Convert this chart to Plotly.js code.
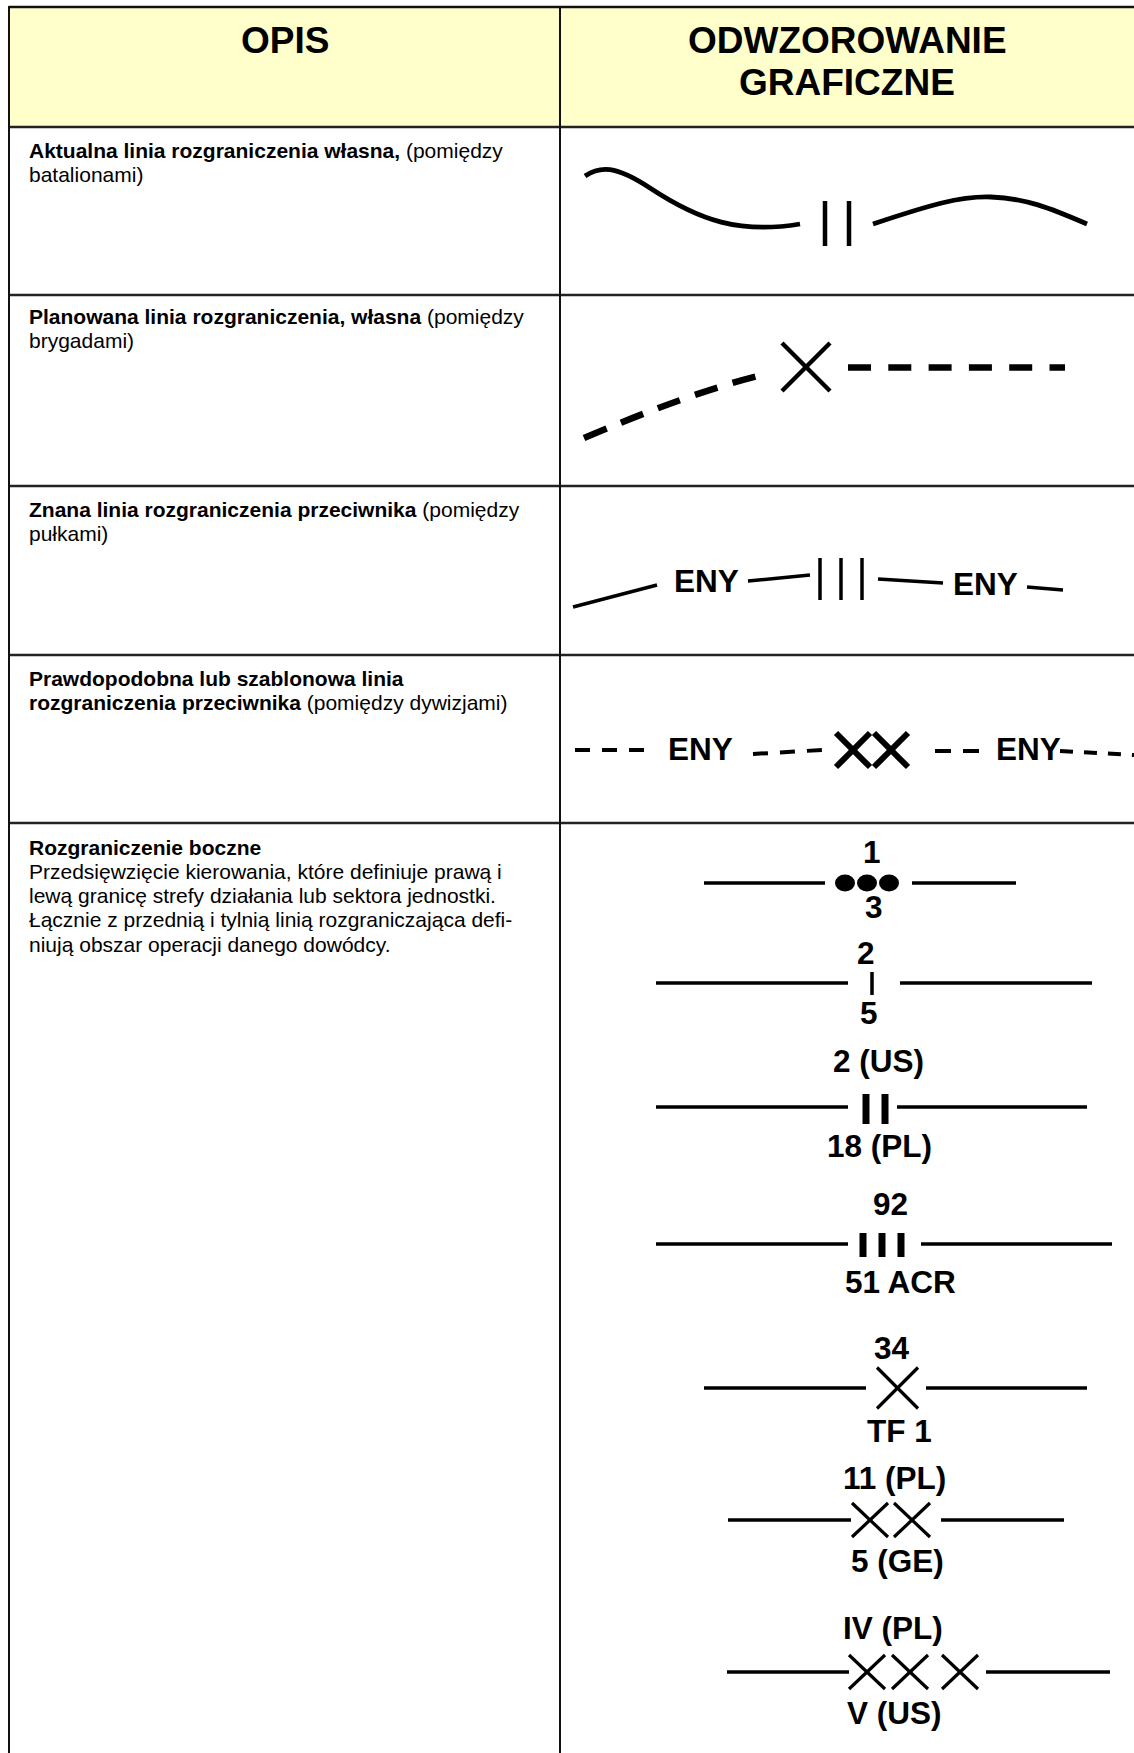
<!DOCTYPE html>
<html><head><meta charset="utf-8">
<script src="https://cdn.plot.ly/plotly-3.0.1.min.js"></script>
<style>html,body{margin:0;padding:0;background:#fff}#chart{width:1134px;height:1753px}</style>
</head><body><div id="chart"></div>
<script>
// ---- content ----
const columnHeaders = ["OPIS", "ODWZOROWANIE<br>GRAFICZNE"];
const descBold = [
  "Aktualna linia rozgraniczenia własna,",
  "Planowana linia rozgraniczenia, własna",
  "Znana linia rozgraniczenia przeciwnika",
  "Prawdopodobna lub szablonowa linia<br>rozgraniczenia przeciwnika",
  "Rozgraniczenie boczne"
];
const descRest = [
  " (pomiędzy<br>batalionami)",
  " (pomiędzy<br>brygadami)",
  " (pomiędzy<br>pułkami)",
  " (pomiędzy dywizjami)",
  "<br>Przedsięwzięcie kierowania, które definiuje prawą i<br>lewą granicę strefy działania lub sektora jednostki.<br>Łącznie z przednią i tylnią linią rozgraniczająca defi-<br>niują obszar operacji danego dowódcy."
];
const rowEchelon = ["II", "X", "III", "XX"];
const enemyLabel = "ENY";
const lateralUpper = ["1", "2", "2 (US)", "92", "34", "11 (PL)", "IV (PL)"];
const lateralLower = ["3", "5", "18 (PL)", "51 ACR", "TF 1", "5 (GE)", "V (US)"];
const lateralEchelon = ["●●●", "I", "II", "III", "X", "XX", "XXX"];

// ---- drawing ----
const FONT = "Liberation Sans, Arial, Helvetica, sans-serif";
const shapes = [];
const annotations = [];
function ln(x0, y0, x1, y1, w, dash, color) {
  shapes.push({type: 'line', xref: 'x', yref: 'y', x0, y0, x1, y1,
    line: {color: color || '#000', width: w, dash: dash || 'solid'}});
}
function pth(d, w, dash) {
  shapes.push({type: 'path', xref: 'x', yref: 'y', path: d, fillcolor: 'rgba(0,0,0,0)',
    line: {color: '#000', width: w, dash: dash || 'solid'}});
}
function cross(cx, cy, hw, hh, w) {
  ln(cx - hw, cy - hh, cx + hw, cy + hh, w);
  ln(cx - hw, cy + hh, cx + hw, cy - hh, w);
}
function dot(cx, cy, rx, ry) {
  shapes.push({type: 'circle', xref: 'x', yref: 'y', x0: cx - rx, x1: cx + rx, y0: cy - ry, y1: cy + ry,
    fillcolor: '#000', line: {color: '#000', width: 0}});
}
function label(text, x, y, size, opts) {
  annotations.push(Object.assign({xref: 'x', yref: 'y', x, y, text, showarrow: false,
    xanchor: 'center', yanchor: 'middle', font: {family: FONT, size: size, color: '#000'}}, opts || {}));
}
function splitLines(html) {
  let open = false;
  return html.split('<br>').map(p => {
    let s = (open ? '<b>' : '') + p;
    const o = (s.match(/<b>/g) || []).length, c = (s.match(/<\/b>/g) || []).length;
    if (o > c) { s += '</b>'; open = true; } else { open = false; }
    return s;
  });
}

// table frame
shapes.push({type: 'rect', xref: 'x', yref: 'y', x0: 9, x1: 1134, y0: 7, y1: 127,
  fillcolor: '#FFFFCC', line: {width: 0}, layer: 'below'});
ln(9, 7, 1134, 7, 2.5, null, '#111');
[127, 295, 486, 655, 823].forEach(y => ln(9, y, 1134, y, 2.5, null, '#222'));
ln(9, 6, 9, 1753, 2, null, '#111');
ln(560, 6, 560, 1753, 2, null, '#111');

// headers
label('<b>' + columnHeaders[0] + '</b>', 284.5, 40, 37);
columnHeaders[1].split('<br>').forEach((t, k) => label('<b>' + t + '</b>', 847, 40 + k * 42, 37));

// descriptions
const descFirst = [150, 316.5, 509, 678, 847];
descBold.forEach((b, i) => {
  splitLines('<b>' + b + '</b>' + descRest[i]).forEach((t, k) => {
    label(t, 27, descFirst[i] + k * 24.3, 21, {xanchor: 'left', align: 'left'});
  });
});

// row 1: own current boundary (battalions)
pth('M585,176 C600,166 615,165 650,188 C700,221 740,234 800,224', 4.8);
[825, 849].slice(0, rowEchelon[0].length).forEach(x => ln(x, 201, x, 246, 4.5));
pth('M873,224 C930,205 960,196 991,197 C1025,198 1050,208 1087,224', 4.8);

// row 2: planned boundary (brigades)
pth('M584,438 Q687,394 758,376', 6.5, '24px,15.5px');
cross(806, 367, 24, 24, 4.5);
ln(848, 367.5, 1065, 367.5, 6.5, '23px,17.3px');

// row 3: known enemy boundary (regiments)
ln(573, 607, 657, 585, 3.5);
label('<b>' + enemyLabel + '</b>', 706, 581, 31.5);
ln(748, 581, 810, 575, 3.5);
[820, 841, 862].slice(0, rowEchelon[2].length).forEach(x => ln(x, 558, x, 600, 3.5));
ln(878, 579, 943, 583, 3.5);
label('<b>' + enemyLabel + '</b>', 985, 584, 31.5);
ln(1027, 587, 1063, 590, 3.5);

// row 4: probable enemy boundary (divisions)
ln(575, 750, 646, 750, 4, '15px,12px');
label('<b>' + enemyLabel + '</b>', 700, 749, 31.5);
ln(753, 754, 822, 750, 4, '15px,12px');
[853, 891].slice(0, rowEchelon[3].length).forEach(x => cross(x, 750, 17, 17, 6));
ln(935, 751, 979, 751, 4, '16px,12px');
label('<b>' + enemyLabel + '</b>', 1028, 749, 31.5);
ln(1060, 751, 1134, 755, 4, '13px,11px');

// row 5: lateral boundaries
const lateralGeom = [
  {y: 883, L: [704, 825], R: [912, 1016], top: [872, 852], bot: [874, 907], xs: [845, 867, 889]},
  {y: 983, L: [656, 848], R: [900, 1092], top: [866, 953], bot: [869, 1013], xs: [872], bh: [972, 995], bw: 3.5},
  {y: 1107, L: [656, 848], R: [897, 1087], top: [878, 1061], bot: [879, 1146], xs: [866, 885], bh: [1094, 1124], bw: 7},
  {y: 1244, L: [656, 848], R: [921, 1112], top: [890, 1204], bot: [900, 1282], xs: [863, 882, 901], bh: [1233, 1257], bw: 7},
  {y: 1388, L: [704, 866], R: [926, 1087], top: [892, 1348], bot: [899, 1431], xs: [897.5], hw: 20.5, hh: 20.5},
  {y: 1520, L: [728, 851], R: [941, 1064], top: [894, 1478], bot: [897, 1561], xs: [870, 912], hw: 18, hh: 17},
  {y: 1672, L: [727, 849], R: [986, 1110], top: [893, 1628], bot: [894, 1713], xs: [867, 910, 960], hw: 18, hh: 17}
];
lateralEchelon.forEach((sym, i) => {
  const g = lateralGeom[i];
  ln(g.L[0], g.y, g.L[1], g.y, 3.5);
  ln(g.R[0], g.y, g.R[1], g.y, 3.5);
  const n = [...sym].length;
  if (sym.includes('●')) {
    g.xs.slice(0, n).forEach(x => dot(x, g.y, 10, 8.5));
  } else if (sym.includes('I')) {
    g.xs.slice(0, n).forEach(x => ln(x, g.bh[0], x, g.bh[1], g.bw));
  } else {
    g.xs.slice(0, n).forEach(x => cross(x, g.y, g.hw, g.hh, 3.2));
  }
  label('<b>' + lateralUpper[i] + '</b>', g.top[0], g.top[1], 31.5);
  label('<b>' + lateralLower[i] + '</b>', g.bot[0], g.bot[1], 31.5);
});

const layout = {
  width: 1134, height: 1753,
  margin: {l: 0, r: 0, t: 0, b: 0, pad: 0},
  paper_bgcolor: '#fff', plot_bgcolor: '#fff',
  showlegend: false,
  xaxis: {range: [0, 1134], visible: false, fixedrange: true},
  yaxis: {range: [1753, 0], visible: false, fixedrange: true},
  shapes: shapes,
  annotations: annotations
};
Plotly.newPlot('chart', [{x: [], y: [], type: 'scatter', mode: 'markers', hoverinfo: 'skip'}], layout,
  {staticPlot: true, displayModeBar: false});
</script>
</body></html>
